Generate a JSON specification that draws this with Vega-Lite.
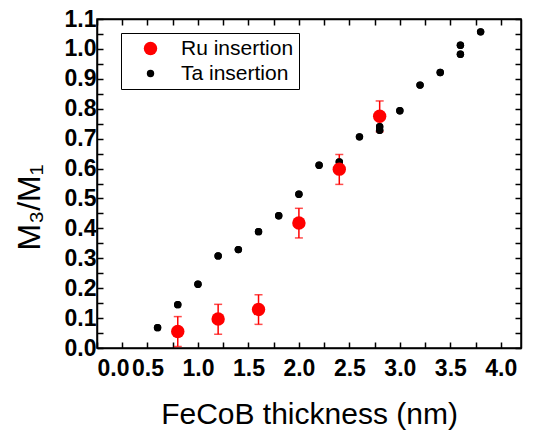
{
  "$schema": "https://vega.github.io/schema/vega-lite/v6.json",
  "width": 424,
  "height": 329,
  "autosize": {"type": "none"},
  "padding": {"left": 97, "top": 19, "right": 26, "bottom": 85},
  "background": "white",
  "config": {
    "font": "Liberation Sans",
    "view": {"stroke": "black", "strokeWidth": 1.5},
    "axis": {
      "domainColor": "black", "domainWidth": 1.5, "tickColor": "black", "tickWidth": 1.5,
      "grid": false, "labelFont": "Liberation Sans", "labelFontWeight": "bold", "labelFontSize": 23,
      "labelColor": "black", "titleFont": "Liberation Sans", "titleFontWeight": "normal",
      "titleFontSize": 30, "titleColor": "black", "tickSize": -6
    },
    "legend": {
      "orient": "none", "legendX": 24, "legendY": 14, "strokeColor": "black", "fillColor": "white",
      "padding": 5, "labelFont": "Liberation Sans", "labelFontSize": 21, "labelColor": "black",
      "symbolOffset": 14, "labelOffset": 20, "rowPadding": 3, "symbolStrokeWidth": 0
    }
  },
  "datasets": {
    "ta": [
      {"x": 0.6, "y": 0.068, "series": "Ta insertion"},
      {"x": 0.8, "y": 0.145, "series": "Ta insertion"},
      {"x": 1.0, "y": 0.213, "series": "Ta insertion"},
      {"x": 1.2, "y": 0.308, "series": "Ta insertion"},
      {"x": 1.4, "y": 0.329, "series": "Ta insertion"},
      {"x": 1.6, "y": 0.389, "series": "Ta insertion"},
      {"x": 1.8, "y": 0.442, "series": "Ta insertion"},
      {"x": 2.0, "y": 0.514, "series": "Ta insertion"},
      {"x": 2.2, "y": 0.611, "series": "Ta insertion"},
      {"x": 2.4, "y": 0.622, "series": "Ta insertion"},
      {"x": 2.6, "y": 0.706, "series": "Ta insertion"},
      {"x": 2.8, "y": 0.728, "series": "Ta insertion"},
      {"x": 2.8, "y": 0.740, "series": "Ta insertion"},
      {"x": 3.0, "y": 0.793, "series": "Ta insertion"},
      {"x": 3.2, "y": 0.879, "series": "Ta insertion"},
      {"x": 3.4, "y": 0.921, "series": "Ta insertion"},
      {"x": 3.6, "y": 0.982, "series": "Ta insertion"},
      {"x": 3.6, "y": 1.012, "series": "Ta insertion"},
      {"x": 3.8, "y": 1.057, "series": "Ta insertion"}
    ],
    "ru": [
      {"x": 0.8, "y": 0.055, "lo": 0.005, "hi": 0.105, "series": "Ru insertion"},
      {"x": 1.2, "y": 0.097, "lo": 0.046, "hi": 0.146, "series": "Ru insertion"},
      {"x": 1.6, "y": 0.129, "lo": 0.079, "hi": 0.178, "series": "Ru insertion"},
      {"x": 2.0, "y": 0.418, "lo": 0.368, "hi": 0.467, "series": "Ru insertion"},
      {"x": 2.4, "y": 0.598, "lo": 0.547, "hi": 0.647, "series": "Ru insertion"},
      {"x": 2.8, "y": 0.775, "lo": 0.723, "hi": 0.826, "series": "Ru insertion"}
    ]
  },
  "resolve": {"axis": {"x": "independent", "y": "independent"}},
  "layer": [
    {
      "data": {"name": "ta"},
      "mark": {"type": "point", "filled": true, "opacity": 1, "shape": "circle"},
      "encoding": {
        "x": {"field": "x", "type": "quantitative",
          "scale": {"domain": [0, 4.2], "nice": false, "zero": false},
          "axis": {"orient": "bottom", "title": "FeCoB thickness (nm)", "titlePadding": 19, "labelPadding": 15,
            "values": [0,0.25,0.5,0.75,1,1.25,1.5,1.75,2,2.25,2.5,2.75,3,3.25,3.5,3.75,4],
            "labelExpr": "round(datum.value*100) % 50 == 0 ? format(datum.value, '.1f') : ''"}},
        "y": {"field": "y", "type": "quantitative",
          "scale": {"domain": [0, 1.1], "nice": false, "zero": false},
          "axis": {"orient": "left", "title": "M₃/M₁", "titlePadding": 18, "labelPadding": 7,
            "titleFontSize": 32, "titleY": 188,
            "values": [0,0.05,0.1,0.15,0.2,0.25,0.3,0.35,0.4,0.45,0.5,0.55,0.6,0.65,0.7,0.75,0.8,0.85,0.9,0.95,1,1.05,1.1],
            "labelExpr": "round(datum.value*100) % 10 == 0 ? format(datum.value, '.1f') : ''"}},
        "color": {"field": "series", "type": "nominal",
          "scale": {"domain": ["Ru insertion", "Ta insertion"], "range": ["#ff0000", "#000000"]},
          "legend": {"title": null}},
        "size": {"field": "series", "type": "nominal",
          "scale": {"domain": ["Ru insertion", "Ta insertion"], "range": [180, 55]},
          "legend": {"title": null}}
      }
    },
    {
      "data": {"name": "ru"},
      "mark": {"type": "rule", "color": "#ff0000", "strokeWidth": 1.5},
      "encoding": {
        "x": {"field": "x", "type": "quantitative", "scale": {"domain": [0, 4.2]}, "axis": null},
        "y": {"field": "lo", "type": "quantitative", "scale": {"domain": [0, 1.1]}, "axis": null},
        "y2": {"field": "hi"}
      }
    },
    {
      "data": {"name": "ru"},
      "mark": {"type": "tick", "color": "#ff0000", "orient": "horizontal", "size": 8, "thickness": 1.5},
      "encoding": {
        "x": {"field": "x", "type": "quantitative", "scale": {"domain": [0, 4.2]}, "axis": null},
        "y": {"field": "lo", "type": "quantitative", "scale": {"domain": [0, 1.1]}, "axis": null}
      }
    },
    {
      "data": {"name": "ru"},
      "mark": {"type": "tick", "color": "#ff0000", "orient": "horizontal", "size": 8, "thickness": 1.5},
      "encoding": {
        "x": {"field": "x", "type": "quantitative", "scale": {"domain": [0, 4.2]}, "axis": null},
        "y": {"field": "hi", "type": "quantitative", "scale": {"domain": [0, 1.1]}, "axis": null}
      }
    },
    {
      "data": {"name": "ta"},
      "mark": {"type": "point", "filled": true, "opacity": 1, "shape": "circle"},
      "encoding": {
        "x": {"field": "x", "type": "quantitative", "scale": {"domain": [0, 4.2]}, "axis": null},
        "y": {"field": "y", "type": "quantitative", "scale": {"domain": [0, 1.1]}, "axis": null},
        "color": {"field": "series", "type": "nominal"},
        "size": {"field": "series", "type": "nominal"}
      }
    },
    {
      "data": {"name": "ru"},
      "mark": {"type": "point", "filled": true, "opacity": 1, "shape": "circle"},
      "encoding": {
        "x": {"field": "x", "type": "quantitative", "scale": {"domain": [0, 4.2]},
          "axis": {"orient": "top", "title": null, "labels": false,
            "values": [0,0.25,0.5,0.75,1,1.25,1.5,1.75,2,2.25,2.5,2.75,3,3.25,3.5,3.75,4]}},
        "y": {"field": "y", "type": "quantitative", "scale": {"domain": [0, 1.1]},
          "axis": {"orient": "right", "title": null, "labels": false,
            "values": [0,0.05,0.1,0.15,0.2,0.25,0.3,0.35,0.4,0.45,0.5,0.55,0.6,0.65,0.7,0.75,0.8,0.85,0.9,0.95,1,1.05,1.1]}},
        "color": {"field": "series", "type": "nominal"},
        "size": {"field": "series", "type": "nominal"}
      }
    }
  ]
}
